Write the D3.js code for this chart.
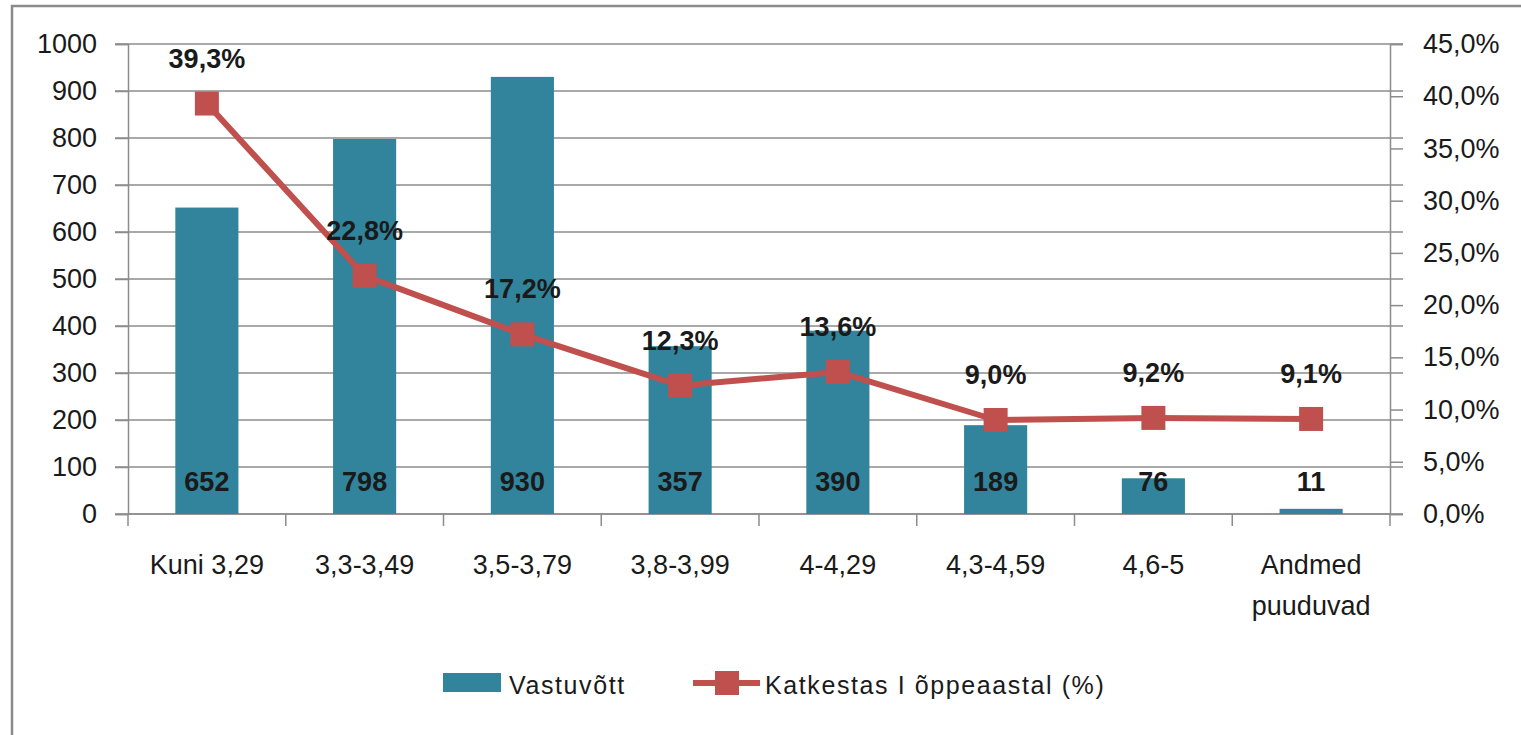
<!DOCTYPE html>
<html lang="et">
<head>
    <meta charset="UTF-8">
    <title>Vastuvõtt ja katkestamine</title>
    <script src="https://cdn.jsdelivr.net/npm/d3@7"></script>
    <style>
        body { margin: 0; background: #fff; }
        text { font-family: "Liberation Sans", Arial, sans-serif; fill: #1a1a1a; }
    </style>
</head>
<body>
<script>
	// andmed
	var categories = ["Kuni 3,29", "3,3-3,49", "3,5-3,79", "3,8-3,99", "4-4,29", "4,3-4,59", "4,6-5", "Andmed\npuuduvad"];
	var admitted = [652, 798, 930, 357, 390, 189, 76, 11];
	var dropoutPct = [39.3, 22.8, 17.2, 12.3, 13.6, 9.0, 9.2, 9.1];
	var leftTicks = [0, 100, 200, 300, 400, 500, 600, 700, 800, 900, 1000];
	var rightTicks = [0, 5, 10, 15, 20, 25, 30, 35, 40, 45];
	var seriesNames = ["Vastuvõtt", "Katkestas I õppeaastal (%)"];

	var width = 1521, height = 735;
	var plot = {left: 128, right: 1390, top: 44, bottom: 514};
	var barColor = "#31849b", lineColor = "#c0504d", gridColor = "#8c8c8c";
	var fmtPct = function (v) { return v.toFixed(1).replace(".", ",") + "%"; };

	var svg = d3.select("body").append("svg").attr("width", width).attr("height", height);

	// raam
	svg.append("rect").attr("x", 12).attr("y", 6).attr("width", width + 20).attr("height", height + 20)
		.attr("fill", "#fff").attr("stroke", "#8a8a8a").attr("stroke-width", 2.5);

	// skaalad
	var x = d3.scaleBand().domain(d3.range(categories.length)).range([plot.left, plot.right]).paddingInner(0.6).paddingOuter(0.3);
	var xCat = d3.scaleLinear().domain([0, categories.length]).range([plot.left, plot.right]);
	var yL = d3.scaleLinear().domain([0, 1000]).range([plot.bottom, plot.top]);
	var yR = d3.scaleLinear().domain([0, 45]).range([plot.bottom, plot.top]);

	// ruudustik
	svg.append("g").selectAll("line").data(leftTicks).enter().append("line")
		.attr("x1", plot.left - 13).attr("x2", plot.right + 13)
		.attr("y1", function (d) { return yL(d); }).attr("y2", function (d) { return yL(d); })
		.attr("stroke", gridColor).attr("stroke-width", 1.5);

	// vasak telg
	var gl = svg.append("g").attr("transform", "translate(" + plot.left + ",0)")
		.call(d3.axisLeft(yL).tickValues(leftTicks).tickSize(13).tickPadding(18).tickFormat(d3.format("d")));
	gl.select(".domain").attr("stroke", gridColor).attr("stroke-width", 1.5);
	gl.selectAll(".tick line").attr("stroke", gridColor).attr("stroke-width", 1.5);
	gl.selectAll("text").attr("font-size", 27).attr("fill", "#1a1a1a").attr("font-family", "Liberation Sans, Arial, sans-serif");

	// parem telg
	var gr = svg.append("g").attr("transform", "translate(" + plot.right + ",0)")
		.call(d3.axisRight(yR).tickValues(rightTicks).tickSize(13).tickPadding(20).tickFormat(fmtPct));
	gr.select(".domain").attr("stroke", gridColor).attr("stroke-width", 1.5);
	gr.selectAll(".tick line").attr("stroke", gridColor).attr("stroke-width", 1.5);
	gr.selectAll("text").attr("font-size", 27).attr("fill", "#1a1a1a").attr("font-family", "Liberation Sans, Arial, sans-serif");

	// x-telg
	var gx = svg.append("g").attr("transform", "translate(0," + plot.bottom + ")");
	gx.append("line").attr("x1", plot.left).attr("x2", plot.right).attr("stroke", gridColor).attr("stroke-width", 1.5);
	gx.selectAll(".xt").data(d3.range(categories.length + 1)).enter().append("line")
		.attr("x1", function (d) { return xCat(d); }).attr("x2", function (d) { return xCat(d); })
		.attr("y1", 0).attr("y2", 12).attr("stroke", gridColor).attr("stroke-width", 1.5);
	gx.selectAll(".xl").data(categories).enter().append("text")
		.attr("text-anchor", "middle").attr("font-size", 27)
		.attr("transform", function (d, i) { return "translate(" + (x(i) + x.bandwidth() / 2) + ",0)"; })
		.each(function (d) {
			var t = d3.select(this);
			d.split("\n").forEach(function (s, k) {
				t.append("tspan").attr("x", 0).attr("y", 60 + k * 41).text(s);
			});
		});

	// tulbad
	svg.append("g").selectAll("rect").data(admitted).enter().append("rect")
		.attr("x", function (d, i) { return x(i); })
		.attr("y", function (d) { return yL(d); })
		.attr("width", x.bandwidth())
		.attr("height", function (d) { return plot.bottom - yL(d); })
		.attr("fill", barColor);

	// tulpade sildid
	svg.append("g").selectAll("text").data(admitted).enter().append("text")
		.attr("x", function (d, i) { return x(i) + x.bandwidth() / 2; })
		.attr("y", plot.bottom - 23)
		.attr("text-anchor", "middle").attr("font-size", 27).attr("font-weight", "bold")
		.text(function (d) { return d; });

	// joon
	var cx = function (i) { return x(i) + x.bandwidth() / 2; };
	var line = d3.line().x(function (d, i) { return cx(i); }).y(function (d) { return yR(d); });
	svg.append("path").datum(dropoutPct).attr("d", line)
		.attr("fill", "none").attr("stroke", lineColor).attr("stroke-width", 6).attr("stroke-linejoin", "round");
	svg.append("g").selectAll("rect").data(dropoutPct).enter().append("rect")
		.attr("x", function (d, i) { return cx(i) - 12; })
		.attr("y", function (d) { return yR(d) - 12; })
		.attr("width", 24).attr("height", 24).attr("fill", lineColor);

	// joone sildid
	svg.append("g").selectAll("text").data(dropoutPct).enter().append("text")
		.attr("x", function (d, i) { return cx(i); })
		.attr("y", function (d) { return yR(d) - 36; })
		.attr("text-anchor", "middle").attr("font-size", 27).attr("font-weight", "bold")
		.text(fmtPct);

	// legend
	var lg = svg.append("g").attr("transform", "translate(0,683)");
	lg.append("rect").attr("x", 443).attr("y", -10).attr("width", 58).attr("height", 19).attr("fill", barColor);
	lg.append("text").attr("x", 509).attr("y", 11).attr("font-size", 25).attr("letter-spacing", 1.6).text(seriesNames[0]);
	lg.append("line").attr("x1", 693).attr("x2", 760).attr("y1", 0).attr("y2", 0).attr("stroke", lineColor).attr("stroke-width", 6);
	lg.append("rect").attr("x", 715).attr("y", -12).attr("width", 24).attr("height", 24).attr("fill", lineColor);
	lg.append("text").attr("x", 765).attr("y", 11).attr("font-size", 25).attr("letter-spacing", 1.6).text(seriesNames[1]);
</script>
</body>
</html>
